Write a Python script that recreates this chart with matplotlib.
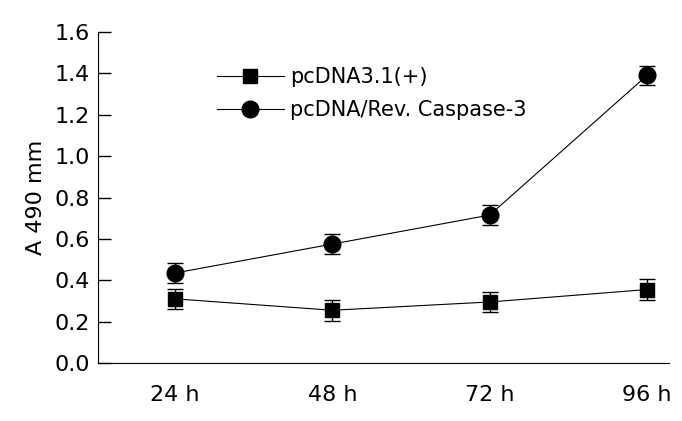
import numpy as np
import matplotlib.pyplot as plt

# time points and absorbance values
labels = ['24 h', '48 h', '72 h', '96 h']
vec_mean = [0.31, 0.255, 0.295, 0.355]
vec_err = [0.05, 0.05, 0.05, 0.05]
rev_mean = [0.435, 0.575, 0.715, 1.39]
rev_err = [0.05, 0.05, 0.05, 0.045]

plt.rcParams['font.family'] = ['DejaVu Sans']

fig = plt.figure(figsize=(6.82, 4.21), dpi=100)
ax = fig.add_axes([98/682, 58/421, 571/682, 331/421])

x = np.arange(1, len(labels) + 1)

# error bars first, then the lines with markers (these go in the legend)
ax.errorbar(x, vec_mean, yerr=vec_err, fmt='none', ecolor='black',
            capsize=6, elinewidth=1, capthick=1)
ax.errorbar(x, rev_mean, yerr=rev_err, fmt='none', ecolor='black',
            capsize=6, elinewidth=1, capthick=1)
ax.plot(x, vec_mean, color='black', lw=0.8, marker='s', ms=10, label='pcDNA3.1(+)')
ax.plot(x, rev_mean, color='black', lw=0.8, marker='o', ms=12, label='pcDNA/Rev. Caspase-3')

ax.set_xlim(0.51, 4.14)
ax.set_ylim(0, 1.6)
ax.set_yticks(np.arange(0, 1.61, 0.2))
ax.set_yticklabels(['%.1f' % v for v in np.arange(0, 1.61, 0.2)], fontsize=16)
ax.set_xticks(x)
ax.set_xticklabels(labels, fontsize=16)
ax.tick_params(axis='x', length=0, pad=16)
ax.tick_params(axis='y', direction='in', length=9, width=1, pad=6)
ax.set_ylabel('A 490 mm', fontsize=16, labelpad=6)

ax.spines['top'].set_visible(False)
ax.spines['right'].set_visible(False)

ax.legend(loc='upper left', bbox_to_anchor=(0.194, 0.92), frameon=False, fontsize=15,
          handlelength=3.2, handletextpad=0.3, labelspacing=0.65, numpoints=1,
          borderaxespad=0)

fig.savefig('out.png', dpi=100)
